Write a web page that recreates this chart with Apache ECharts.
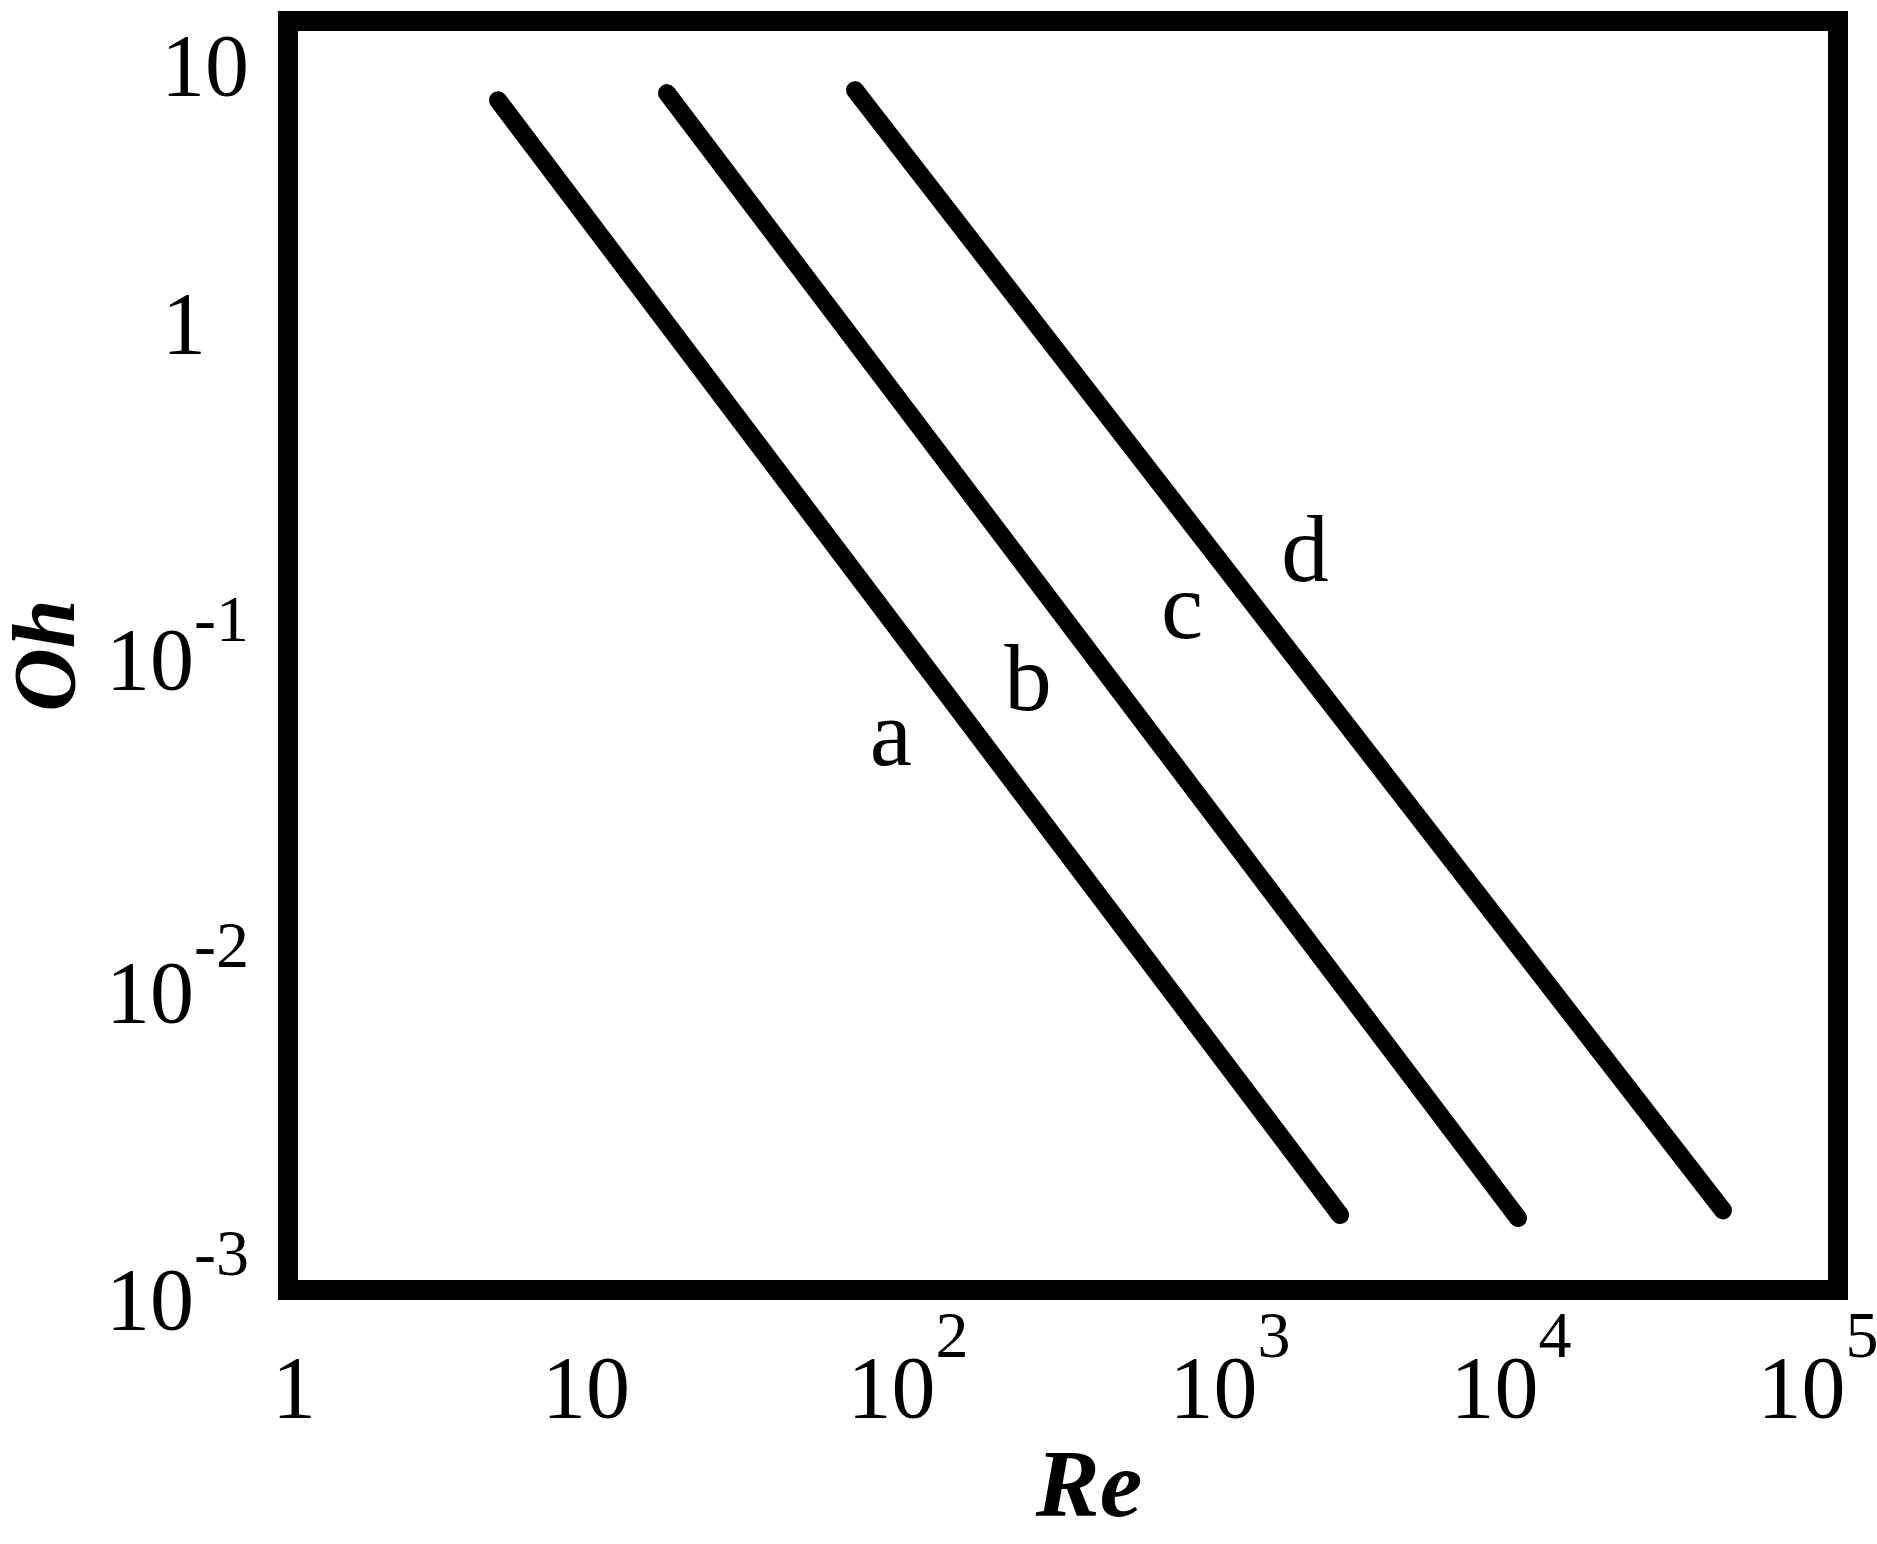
<!DOCTYPE html>
<html>
<head>
<meta charset="utf-8">
<script src="https://cdn.jsdelivr.net/npm/echarts@6/dist/echarts.min.js"></script>
<style>
html,body{margin:0;padding:0;background:#fff;}
#chart{width:1877px;height:1544px;}
</style>
</head>
<body>
<div id="chart"></div>
<script>
// Three boundary lines (Re, Oh)
const lineARe = [4.76, 2476];
const lineAOh = [6.52, 0.00174];
const lineBRe = [16.7, 9290];
const lineBOh = [6.87, 0.00170];
const lineCRe = [67.5, 42560];
const lineCOh = [7.02, 0.00180];

// Region labels and where they sit (in data units)
const regionNames = ['a', 'b', 'c', 'd'];
const regionRe = [88.1, 244, 766, 1908];
const regionOh = [0.0579, 0.0870, 0.148, 0.2249];

// Axis ranges
const reMin = 1, reMax = 100000;
const ohMin = 0.001, ohMax = 11.7;

const FONT = '"Liberation Serif", "DejaVu Serif", serif';

// ---- label styling (hand-set figure: small per-label nudges, in px) ----
const xNudge = { 0: 6, 1: -12, 2: 0, 3: 12, 4: -17, 5: -20 };   // + = right
const yNudge = { 1: 30, 0: -24, '-1': 0, '-2': 21, '-3': 16 };   // + = down
const ySupPad = { '-1': 0, '-2': 14, '-3': 10 };                 // superscript drop
const yRightPad = { 0: 43 };                                      // "1" sits left

const BASE_FS = 88, SUP_FS = 66;
const rich = {};
function addStyle(name, fs, lh, pad, va) {
  const st = { fontSize: fs, fontFamily: FONT, color: '#000', lineHeight: lh, padding: pad };
  if (va) st.verticalAlign = va;
  rich[name] = st;
}
// x-axis styles
for (let e = 0; e <= 5; e++) {
  const s = xNudge[e] || 0;
  const hasSup = e >= 2;
  const left = s > 0 ? 2 * s : 0;
  const right = s < 0 ? -2 * s : 0;
  addStyle('xb' + e, BASE_FS, 174, [0, hasSup ? 0 : right, 0, left]);
  if (hasSup) addStyle('xs' + e, SUP_FS, 66, [0, right, 0, 0], 'top');
}
// y-axis styles
for (let e = -3; e <= 1; e++) {
  const s = yNudge[e] || 0;
  const hasSup = e < 0;
  const top = s > 0 ? 2 * s : 0;
  const bottom = s < 0 ? -2 * s : 0;
  const rp = yRightPad[e] || 0;
  addStyle('yb' + (e + 3), BASE_FS, 150, [top, hasSup ? 0 : rp, bottom, 0]);
  if (hasSup) addStyle('ys' + (e + 3), SUP_FS, 66, [ySupPad[e] || 0, 0, 0, 0], 'top');
}

function powLabel(v, axis) {
  const lg = Math.log10(v);
  const e = Math.round(lg);
  if (Math.abs(lg - e) > 1e-6) return '';
  const k = axis === 'x' ? e : e + 3;
  const base = e === 0 ? '1' : '10';
  let out = '{' + axis + 'b' + k + '|' + base + '}';
  if (e < 0 || e >= 2) out += '{' + axis + 's' + k + '|' + e + '}';
  return out;
}

const lineStyle = { color: '#000', width: 18, cap: 'round', join: 'round' };

const chart = echarts.init(document.getElementById('chart'), null, { renderer: 'canvas' });
chart.setOption({
  animation: false,
  backgroundColor: '#fff',
  grid: {
    left: 288, top: 21, width: 1550, height: 1269,
    show: true, borderColor: '#000', borderWidth: 20, backgroundColor: 'transparent',
    containLabel: false, outerBoundsMode: 'none'
  },
  xAxis: {
    type: 'log', logBase: 10, min: reMin, max: reMax,
    name: 'Re', nameLocation: 'middle', nameGap: 129,
    nameTextStyle: { fontSize: 96, fontFamily: FONT, fontStyle: 'italic', fontWeight: 'bold', color: '#000', padding: [0, 0, 0, 52] },
    axisLine: { show: false }, axisTick: { show: false }, splitLine: { show: false }, minorTick: { show: false },
    axisLabel: { margin: 17, formatter: v => powLabel(v, 'x'), rich: rich, color: '#000' }
  },
  yAxis: {
    type: 'log', logBase: 10, min: ohMin, max: ohMax,
    name: 'Oh', nameLocation: 'middle', nameGap: 162, nameRotate: 90,
    nameTextStyle: { fontSize: 88, fontFamily: FONT, fontStyle: 'italic', fontWeight: 'bold', color: '#000' },
    axisLine: { show: false }, axisTick: { show: false }, splitLine: { show: false }, minorTick: { show: false },
    axisLabel: { margin: 39, formatter: v => powLabel(v, 'y'), rich: rich, color: '#000' }
  },
  series: [
    { type: 'line', data: pairs(lineARe, lineAOh), symbol: 'none', lineStyle: lineStyle, z: 3 },
    { type: 'line', data: pairs(lineBRe, lineBOh), symbol: 'none', lineStyle: lineStyle, z: 3 },
    { type: 'line', data: pairs(lineCRe, lineCOh), symbol: 'none', lineStyle: lineStyle, z: 3 },
    {
      type: 'scatter', symbolSize: 1, itemStyle: { color: 'rgba(0,0,0,0)', opacity: 1 },
      data: regionNames.map((n, i) => ({ name: n, value: [regionRe[i], regionOh[i]] })),
      label: { show: true, position: 'inside', formatter: p => p.name, fontSize: 95, fontFamily: FONT, color: '#000', opacity: 1 },
      z: 4
    }
  ]
});
function pairs(xs, ys) { return xs.map((x, i) => [x, ys[i]]); }
</script>
</body>
</html>
